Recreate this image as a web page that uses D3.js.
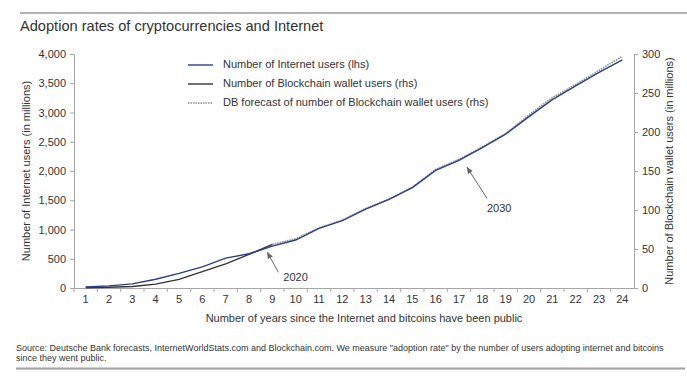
<!DOCTYPE html>
<html lang="en">
<head>
<meta charset="UTF-8">
<title>Adoption rates of cryptocurrencies and Internet</title>
<script src="https://cdn.jsdelivr.net/npm/d3@7"></script>
<style>
    body{ margin:0; background:#fff; }
    text{ font-family: "Liberation Sans", Arial, sans-serif; fill:#333; }
    .axis path, .axis line{ stroke:#a6a6a6; }
    .axis text{ font-size:11px; fill:#333; }
</style>
</head>
<body>
<div id="chart"></div>
<script>
    // ---------- data ----------
    const years = d3.range(1, 25);
    const internetUsers = [16, 36, 70, 150, 250, 360, 510, 585, 715, 820, 1020, 1150,
                           1350, 1515, 1715, 2010, 2180, 2400, 2630, 2930, 3220, 3455, 3685, 3900];
    const walletYears = [1, 2, 3, 4, 5, 6, 7, 8, 9];
    const walletUsers = [0.3, 1, 2, 5, 11, 21, 31, 43, 56];
    const forecastYears = [9, 10, 11, 12, 13, 14, 15, 16, 17, 18, 19, 20, 21, 22, 23, 24];
    const forecastUsers = [56, 63, 77, 87, 102, 114, 129, 152, 165, 181, 198, 222, 244, 261, 279, 297];
    const leftTicks = [0, 500, 1000, 1500, 2000, 2500, 3000, 3500, 4000];
    const rightTicks = [0, 50, 100, 150, 200, 250, 300];

    const width = 687, height = 381;
    const plot = {left: 74, right: 634, top: 54, bottom: 288};

    const svg = d3.select("#chart").append("svg")
        .attr("width", width).attr("height", height);

    // top rule + title
    svg.append("line").attr("x1", 20).attr("x2", 687).attr("y1", 13).attr("y2", 13)
        .attr("stroke", "#9a9a9a").attr("stroke-width", 1.5);
    svg.append("text").attr("x", 20).attr("y", 31)
        .attr("font-size", "14.6px").text("Adoption rates of cryptocurrencies and Internet");

    // ---------- scales ----------
    const x = d3.scaleBand().domain(years).range([plot.left, plot.right]);
    const xc = d => x(d) + x.bandwidth() / 2;
    const yL = d3.scaleLinear().domain([0, 4000]).range([plot.bottom, plot.top]);
    const yR = d3.scaleLinear().domain([0, 300]).range([plot.bottom, plot.top]);

    // ---------- axes ----------
    const fmt = d3.format(",");
    svg.append("g").attr("class", "axis")
        .attr("transform", `translate(${plot.left},0)`)
        .call(d3.axisLeft(yL).tickValues(leftTicks).tickFormat(fmt).tickSize(4).tickSizeOuter(0).tickPadding(4));
    svg.append("g").attr("class", "axis")
        .attr("transform", `translate(${plot.right},0)`)
        .call(d3.axisRight(yR).tickValues(rightTicks).tickSize(4).tickSizeOuter(0).tickPadding(4));

    const xAxis = svg.append("g").attr("class", "axis")
        .attr("transform", `translate(0,${plot.bottom})`)
        .call(d3.axisBottom(x).tickSize(0).tickPadding(7));
    // tick marks sit on the category boundaries
    xAxis.selectAll(".bound").data(years).join("line").attr("class", "bound")
        .attr("x1", d => x(d)).attr("x2", d => x(d)).attr("y1", 0).attr("y2", 4)
        .attr("stroke", "#a6a6a6");

    // axis titles
    svg.append("text").attr("transform", `translate(27,${(plot.top + plot.bottom) / 2}) rotate(-90)`)
        .attr("text-anchor", "middle").attr("dominant-baseline", "middle")
        .attr("font-size", "11px").text("Number of Internet users (in millions)");
    svg.append("text").attr("transform", `translate(670,${(plot.top + plot.bottom) / 2}) rotate(-90)`)
        .attr("text-anchor", "middle").attr("dominant-baseline", "middle")
        .attr("font-size", "11px").text("Number of Blockchain wallet users (in millions)");
    svg.append("text").attr("x", (plot.left + plot.right) / 2 + 10).attr("y", 322)
        .attr("text-anchor", "middle").attr("font-size", "11px")
        .text("Number of years since the Internet and bitcoins have been public");

    // ---------- lines ----------
    const lineL = d3.line().x(d => xc(d[0])).y(d => yL(d[1]));
    const lineR = d3.line().x(d => xc(d[0])).y(d => yR(d[1]));

    svg.append("path").datum(d3.zip(forecastYears, forecastUsers))
        .attr("d", lineR).attr("fill", "none")
        .attr("stroke", "#8c8c8c").attr("stroke-width", 1.6).attr("stroke-dasharray", "1.5,1");
    svg.append("path").datum(d3.zip(walletYears, walletUsers))
        .attr("d", lineR).attr("fill", "none")
        .attr("stroke", "#333").attr("stroke-width", 1.4);
    svg.append("path").datum(d3.zip(years, internetUsers))
        .attr("d", lineL).attr("fill", "none")
        .attr("stroke", "#2b3d96").attr("stroke-width", 1.4);

    // ---------- annotations ----------
    svg.append("defs").append("marker").attr("id", "arr")
        .attr("viewBox", "0 0 10 10").attr("refX", 9).attr("refY", 5)
        .attr("markerWidth", 7).attr("markerHeight", 7).attr("orient", "auto")
        .append("path").attr("d", "M0,1 L10,5 L0,9 Z").attr("fill", "#666");

    // arrows point at a data point, offset a little below it
    const notes = [
        {label: "2020", year: 9, value: walletUsers[8], dx: -5, dy: 8, tx: 11, ty: 20, lx: 5, ly: 9},
        {label: "2030", year: 17, value: forecastUsers[8], dx: 8, dy: 8, tx: 20, ty: 31, lx: 0, ly: 14}
    ];
    notes.forEach(n => {
        const px = xc(n.year) + n.dx, py = yR(n.value) + n.dy;
        svg.append("line").attr("x1", px + n.tx).attr("y1", py + n.ty)
            .attr("x2", px).attr("y2", py)
            .attr("stroke", "#666").attr("stroke-width", 1).attr("marker-end", "url(#arr)");
        svg.append("text").attr("x", px + n.tx + n.lx).attr("y", py + n.ty + n.ly)
            .attr("font-size", "11px").text(n.label);
    });

    // ---------- legend ----------
    const legend = [
        {label: "Number of Internet users (lhs)", color: "#2b3d96", dash: null},
        {label: "Number of Blockchain wallet users (rhs)", color: "#333", dash: null},
        {label: "DB forecast of number of Blockchain wallet users (rhs)", color: "#8c8c8c", dash: "1.5,1"}
    ];
    const lg = svg.append("g").attr("transform", "translate(188,65)");
    lg.selectAll("g").data(legend).join("g")
        .attr("transform", (d, i) => `translate(0,${i * 19})`)
        .each(function (d) {
            const g = d3.select(this);
            g.append("line").attr("x1", 0).attr("x2", 25).attr("y1", 0).attr("y2", 0)
                .attr("stroke", d.color).attr("stroke-width", 1.4)
                .attr("stroke-dasharray", d.dash);
            g.append("text").attr("x", 35).attr("y", 0).attr("dominant-baseline", "middle")
                .attr("font-size", "11px").text(d.label);
        });

    // ---------- footnote ----------
    svg.append("text").attr("x", 16).attr("y", 351).attr("font-size", "9px").attr("fill", "#555")
        .text("Source: Deutsche Bank forecasts, InternetWorldStats.com and Blockchain.com. We measure \"adoption rate\" by the number of users adopting internet and bitcoins");
    svg.append("text").attr("x", 16).attr("y", 361).attr("font-size", "9px").attr("fill", "#555")
        .text("since they went public.");
    svg.append("line").attr("x1", 16).attr("x2", 685).attr("y1", 368.5).attr("y2", 368.5)
        .attr("stroke", "#a0a0a0").attr("stroke-width", 2);
</script>
</body>
</html>
